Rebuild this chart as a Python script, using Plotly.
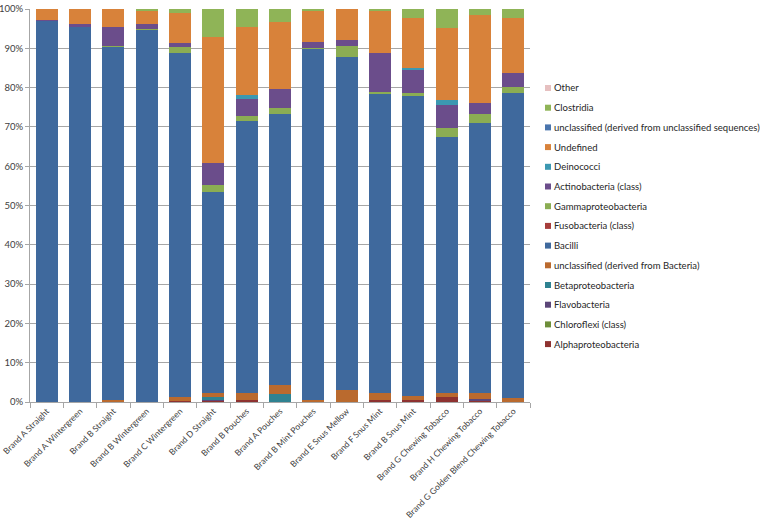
import plotly.graph_objects as go

categories = ["Brand A Straight", "Brand A Wintergreen", "Brand B Straight", "Brand B Wintergreen",
              "Brand C Wintergreen", "Brand D Straight", "Brand B Pouches", "Brand A Pouches",
              "Brand B Mint Pouches", "Brand E Snus Mellow", "Brand F Snus Mint", "Brand B Snus Mint",
              "Brand G Chewing Tobacco", "Brand H Chewing Tobacco", "Brand G Golden Blend Chewing Tobacco"]

# stacked bottom -> top (values in %)
alphaproteobacteria = [0, 0, 0, 0, 0.3, 0.3, 0.4, 0, 0, 0, 0.4, 0.6, 1.2, 0.4, 0]
chloroflexi = [0, 0, 0, 0, 0, 0, 0, 0, 0, 0, 0, 0, 0, 0, 0]
flavobacteria = [0, 0, 0, 0, 0, 0.3, 0, 0, 0, 0, 0, 0, 0, 0.4, 0]
betaproteobacteria = [0, 0, 0, 0, 0, 0.6, 0, 2.0, 0, 0, 0, 0, 0, 0, 0]
unclassified_bacteria = [0, 0, 0.5, 0, 1.0, 1.0, 1.8, 2.3, 0.6, 3.0, 2.0, 1.0, 1.2, 1.4, 1.1]
bacilli = [97.0, 95.3, 89.9, 94.7, 87.4, 51.2, 69.2, 69.1, 89.3, 84.7, 76.0, 76.2, 65.1, 68.7, 77.5]
fusobacteria = [0, 0, 0, 0, 0, 0, 0, 0, 0, 0, 0, 0, 0, 0, 0]
gammaproteobacteria = [0, 0, 0.3, 0.3, 1.6, 1.8, 1.3, 1.4, 0.3, 2.9, 0.6, 0.8, 2.1, 2.3, 1.5]
actinobacteria = [0.2, 0.8, 4.6, 1.3, 1.1, 5.5, 4.5, 4.8, 1.3, 1.5, 9.7, 5.8, 6.0, 3.0, 3.7]
deinococci = [0, 0, 0, 0, 0, 0, 1.0, 0, 0, 0, 0, 0.7, 1.2, 0, 0]
undefined = [2.8, 3.9, 4.7, 3.2, 7.7, 32.1, 17.1, 17.0, 8.2, 7.9, 10.7, 12.7, 18.3, 22.2, 14.0]
unclassified_seq = [0, 0, 0, 0, 0, 0, 0, 0, 0, 0, 0, 0, 0, 0, 0]
clostridia = [0, 0, 0, 0.5, 0.9, 7.2, 4.7, 3.4, 0.3, 0, 0.6, 2.2, 4.9, 1.6, 2.2]
other = [0, 0, 0, 0, 0, 0, 0, 0, 0, 0, 0, 0, 0, 0, 0]

series_names = ["Alphaproteobacteria", "Chloroflexi (class)", "Flavobacteria", "Betaproteobacteria",
                "unclassified (derived from Bacteria)", "Bacilli", "Fusobacteria (class)",
                "Gammaproteobacteria", "Actinobacteria (class)", "Deinococci", "Undefined",
                "unclassified (derived from unclassified sequences)", "Clostridia", "Other"]
series_values = [alphaproteobacteria, chloroflexi, flavobacteria, betaproteobacteria,
                 unclassified_bacteria, bacilli, fusobacteria, gammaproteobacteria,
                 actinobacteria, deinococci, undefined, unclassified_seq, clostridia, other]
series_colors = ["#8E3230", "#6E8E3A", "#5B4678", "#2F8291", "#BA6A2E", "#3F699D", "#A63D3B",
                 "#8BAD53", "#6B4D8B", "#3C98B1", "#D8823A", "#4A75AD", "#8FB457", "#E6C0C0"]

FONT = "Lato, Carlito, Liberation Sans, Arial, sans-serif"

W, H = 760, 522
ML, MR, MT, MB = 30, 230, 9, 120
plot_w = W - ML - MR
plot_h = H - MT - MB

fig = go.Figure()
for name, vals, color in zip(series_names, series_values, series_colors):
    fig.add_trace(go.Bar(x=categories, y=vals, name=name, showlegend=False,
                         marker=dict(color=color, line=dict(width=0))))

# custom legend (Excel-like small squares), top entry = last series
legend_top_px = 88
legend_step_px = 19.7
sq = 6
sq_left_px = W - MR + 15
for i, (name, color) in enumerate(zip(reversed(series_names), reversed(series_colors))):
    yc_px = legend_top_px + i * legend_step_px
    yc = 1 - (yc_px - MT) / plot_h
    x0 = (sq_left_px - ML) / plot_w
    x1 = (sq_left_px + sq - ML) / plot_w
    dy = (sq / 2) / plot_h
    fig.add_shape(type="rect", xref="paper", yref="paper", x0=x0, x1=x1, y0=yc - dy, y1=yc + dy,
                  fillcolor=color, line=dict(width=0))
    fig.add_annotation(xref="paper", yref="paper", x=(sq_left_px + sq + 1 - ML) / plot_w, y=yc,
                       xanchor="left", yanchor="middle", text=name, showarrow=False,
                       font=dict(family=FONT, size=9.5, color="#262626"))

fig.update_layout(
    width=W, height=H,
    barmode="stack", bargap=0.34,
    plot_bgcolor="white", paper_bgcolor="white",
    margin=dict(l=ML, r=MR, t=MT, b=MB),
    font=dict(family=FONT, size=10, color="#404040"),
    showlegend=False,
    xaxis=dict(tickangle=-45, showline=True, linecolor="#A6A6A6", ticks="outside", tickson="boundaries",
               ticklen=5, tickcolor="#A6A6A6", tickfont=dict(family=FONT, size=8.5, color="#404040"),
               showgrid=False, automargin=False),
    yaxis=dict(range=[0, 100], dtick=10, ticksuffix="%", showline=True, linecolor="#A6A6A6",
               ticks="outside", ticklen=4, tickcolor="#A6A6A6", showgrid=True, gridcolor="#A6A6A6",
               gridwidth=1, tickfont=dict(family=FONT, size=9.5, color="#404040"), zeroline=False,
               automargin=False, ticklabeloverflow="allow"),
)

fig.write_html("out.html", config={"displayModeBar": False},
               post_script="document.body.style.margin='0px';")
